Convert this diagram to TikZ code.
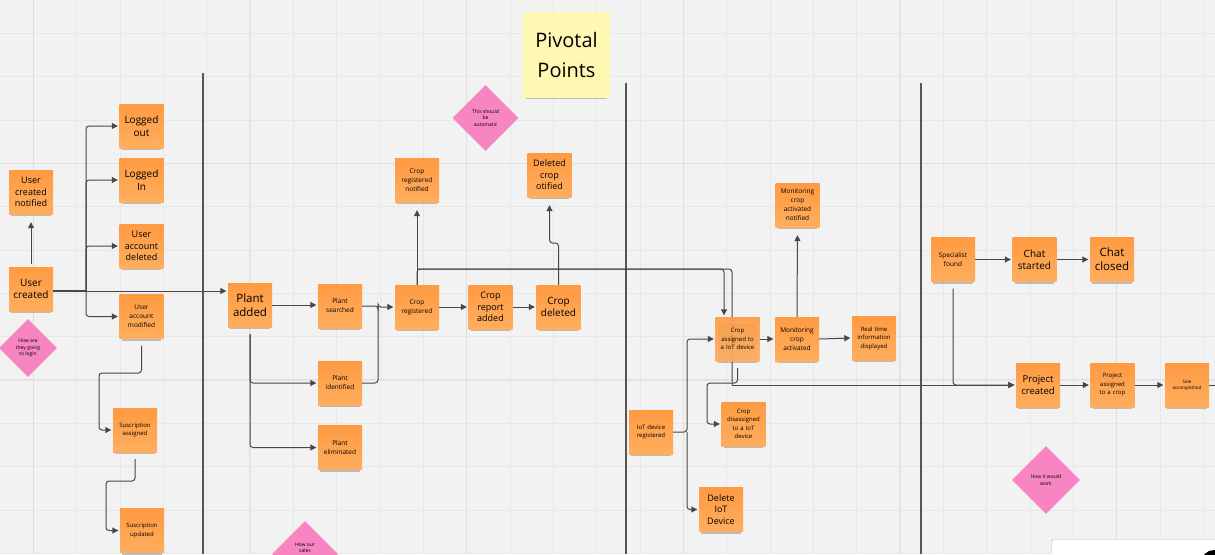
\documentclass[tikz,border=0pt]{standalone}
\usepackage{fontspec}
\setmainfont{Open Sans}
\usetikzlibrary{arrows.meta,shadows,shapes.geometric}
\definecolor{bg}{HTML}{F2F2F2}
\definecolor{gridminor}{HTML}{E7E7E7}
\definecolor{gridmajor}{HTML}{DFDFDF}
\definecolor{noteTop}{HTML}{FF9A42}
\definecolor{noteBot}{HTML}{FFAE5E}
\definecolor{pinkd}{HTML}{F785C1}
\definecolor{yel}{HTML}{FFF8B3}
\definecolor{lineg}{HTML}{474747}
\definecolor{sep}{HTML}{555555}
\begin{document}
\begin{tikzpicture}[x=1pt,y=-1pt,
  note/.style={rectangle, minimum width=44pt, minimum height=44pt, inner sep=1pt,
    text width=42pt, align=center, top color=noteTop, bottom color=noteBot,
    drop shadow={shadow xshift=0pt, shadow yshift=-5pt, shadow scale=0.9, opacity=0.22, fill=black}},
  fa/.style={font=\fontsize{11.5}{14}\selectfont},
  fb/.style={font=\fontsize{10}{12.5}\selectfont},
  fc/.style={font=\fontsize{9}{11.5}\selectfont},
  fd/.style={font=\fontsize{6.5}{9}\selectfont},
  fe/.style={font=\fontsize{6}{8.5}\selectfont},
  ff/.style={font=\fontsize{4.5}{6}\selectfont},
  pinkbox/.style={diamond, aspect=1, fill=pinkd, inner sep=0pt, align=center, font=\fontsize{5}{6.5}\selectfont},
  conn/.style={draw=lineg, line width=1pt, rounded corners=3pt},
  arr/.style={conn, -{Triangle[length=6pt,width=6pt]}, shorten >=1.5pt}]
\useasboundingbox (0,0) rectangle (1215,554);
\clip (0,0) rectangle (1215,554);
\fill[bg] (0,0) rectangle (1215,554);
% grid
\foreach \i in {0,...,27} \draw[gridminor, line width=0.8pt] ({33.33+43.33*\i},0) -- ++(0,554);
\foreach \j in {0,...,12} \draw[gridminor, line width=0.8pt] (0,{33.33+43.33*\j}) -- ++(1215,0);
\foreach \i in {0,5,10,15,20,25} \draw[gridmajor, line width=1pt] ({33.33+43.33*\i},0) -- ++(0,554);
\foreach \j in {3,8} \draw[gridmajor, line width=1pt] (0,{33.33+43.33*\j}) -- ++(1215,0);
% separators
\draw[sep, line width=1.2pt] (203,73) -- (203,554);
\draw[sep, line width=1.2pt] (626,83) -- (626,554);
\draw[sep, line width=1.2pt] (921,83) -- (921,554);

\coordinate (t1) at (417,269);
\coordinate (t2) at (724,269);
\coordinate (t3) at (732,269);
\coordinate (t4) at (732,385);

% nodes
\node[note, fc] (ucn) at (31,192) {User\\created\\notified};
\node[note, fb] (uc) at (31,289) {User\\created};
\node[note, fb] (lo) at (141.5,126) {Logged\\out};
\node[note, fb] (li) at (141.5,180) {Logged\\In};
\node[note, fc] (uad) at (141.5,246) {User\\account\\deleted};
\node[note, fd] (uam) at (141.5,316.5) {User\\account\\modified};
\node[note, fe] (sa) at (135,430) {Suscription\\assigned};
\node[note, fe] (su) at (142,530.5) {Suscription\\updated};
\node[pinkbox, minimum size=58pt] (dg1) at (28,348) {How are\\they going\\to login};

\node[note, fa] (pa) at (250,305) {Plant\\added};
\node[note, fd] (ps) at (340,306) {Plant\\searched};
\node[note, fd] (pid) at (340,383) {Plant\\identified};
\node[note, fd] (pe) at (340,447.5) {Plant\\eliminated};
\node[pinkbox, minimum size=66pt] (dg2) at (305,554) {How our\\sales\\~\\~};

\node[note, fd] (cr) at (417,307) {Crop\\registered};
\node[note, fd] (crn) at (417,180) {Crop\\registered\\notified};
\node[note, fc] (cra) at (490.5,307) {Crop\\report\\added};
\node[note, fb] (crd) at (558.5,307) {Crop\\deleted};
\node[note, fc] (dcn) at (549.5,175) {Deleted\\crop\\otified};
\node[pinkbox, minimum size=66pt] (dg3) at (485.5,118) {This should\\be\\automatic};
\node[rectangle, minimum width=87pt, minimum height=86pt, inner sep=0pt, align=center,
  fill=yel, font=\fontsize{20}{30}\selectfont,
  drop shadow={shadow xshift=0pt, shadow yshift=-5pt, shadow scale=0.92, opacity=0.22, fill=black}] (piv) at (566.5,55) {Pivotal\\Points};

\draw[conn] (t1) -- (t3) -- (t4);
\node[note, fe, fill opacity=0.9, text opacity=1] (ca) at (737.5,339) {Crop\\assigned to\\a IoT device};
\node[note, fd] (mca) at (797,339) {Monitoring\\crop\\activated};
\node[note, fd] (mcn) at (797.5,205) {Monitoring\\crop\\activated\\notified};
\node[note, fe] (rt) at (874,338) {Real time\\information\\displayed};
\node[note, fe] (iot) at (651,432) {IoT device\\registered};
\node[note, fe] (cdis) at (743.5,424) {Crop\\disassigned\\to a IoT\\device};
\node[note, fc] (del) at (721,509.5) {Delete\\IoT\\Device};

\node[note, fd] (sf) at (953,259.5) {Specialist\\found};
\node[note, fb] (cs) at (1034.5,259.5) {Chat\\started};
\node[note, fa] (cc) at (1112,259.5) {Chat\\closed};
\node[note, font=\fontsize{9.5}{12}\selectfont] (pc) at (1038,385) {Project\\created};
\node[note, fe] (pac) at (1112.5,385) {Project\\assigned\\to a crop};
\node[note, ff] (sale) at (1187,385) {Sale\\accomplished};
\node[pinkbox, minimum size=68pt] (dg4) at (1046,480) {How it would\\work};

% bottom-right UI panel
\fill[black!12] (1051,539) rectangle (1215,554);
\fill[white, rounded corners=3pt] (1052,540) rectangle (1225,560);
\fill[black] (1214,563) circle (13);

% connectors: user column
\draw[arr, shorten <=3pt, shorten >=8pt] (uc.north) -- (ucn.south);
\coordinate (j1) at (86,291);
\draw[conn, line width=1.8pt, rounded corners=0pt] (uc.east |- j1) -- (j1);
\draw[arr] (j1) -- (j1 -| pa.west);
\draw[arr] (j1) |- (lo.west);
\draw[arr] (j1) |- (li.west);
\draw[arr] (j1) |- (uad.west);
\draw[arr] (j1) |- (uam.west);
\coordinate (k1) at (99,373);
\draw[arr, shorten <=7pt] (uam.south) |- (k1) |- (sa.west);
\coordinate (k2) at (106,481);
\draw[arr, shorten <=7pt] (sa.south) |- (k2) |- (su.west);

% plant column
\draw[arr] (pa.east) -- (pa.east -| ps.west);
\draw[arr, shorten <=7pt] (pa.south) |- (pid.west);
\draw[arr, shorten <=7pt] (pa.south) |- (pe.west);
\coordinate (j2) at (378,307);
\draw[arr] (ps.east) -| (j2) -- (cr.west);
\draw[conn] (pid.east) -| (j2);

% crop
\draw[arr, shorten >=8pt] (cr.north) -- (crn.south);
\draw[arr] (cr.north) -- (t1) -- (t2) -- (t2 |- ca.north);
\draw[arr] (t4) -- (t4 -| pc.west);
\draw[arr] (cr.east) -- (cra.west);
\draw[arr] (cra.east) -- (crd.west);
\coordinate (d1) at (558.5,243);
\draw[arr, shorten >=8pt] (crd.north) -- (d1) -| (dcn.south);

% IoT
\draw[arr] (ca.east) -- (mca.west);
\draw[arr] (mca.east) -- (rt.west);
\draw[arr, shorten >=8pt] (mca.north) -- (mcn.south);
\coordinate (i1) at (687,432);
\draw[arr] (iot.east) -- (i1) |- (ca.west);
\draw[arr] (i1) |- (del.west);
\coordinate (c1) at (707,383);
\draw[arr, shorten <=7pt] (ca.south) |- (c1) |- (cdis.west);

% specialist / project
\draw[arr] (sf.east) -- (cs.west);
\draw[arr] (cs.east) -- (cc.west);
\draw[arr, shorten <=7pt] (sf.south) |- (pc.west);
\draw[arr] (pc.east) -- (pac.west);
\draw[arr] (pac.east) -- (sale.west);
\coordinate (e1) at (1215,385);
\draw[conn] (sale.east) -- (e1);
\end{tikzpicture}
\end{document}
